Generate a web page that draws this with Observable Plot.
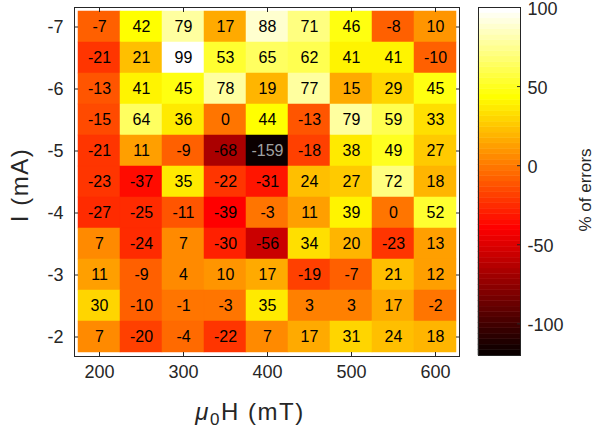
<!DOCTYPE html>
<html>
<head>
<meta charset="utf-8">
<script src="https://cdn.jsdelivr.net/npm/d3@7"></script>
<script src="https://cdn.jsdelivr.net/npm/@observablehq/plot@0.6"></script>
<style>
  html, body { margin: 0; padding: 0; background: white; }
  #wrap { position: relative; width: 595px; height: 432px; overflow: hidden; background: white; }
  #wrap svg { position: absolute; top: 0; }
</style>
</head>
<body>
<div id="wrap"></div>
<script>
// ---- data ----
const fields = [200, 250, 300, 350, 400, 450, 500, 550, 600];          // µ0H (mT)
const currents = [-7, -6.5, -6, -5.5, -5, -4.5, -4, -3.5, -3, -2.5, -2]; // I (mA)
const xTicks = [200, 300, 400, 500, 600];
const yTicks = [-7, -6, -5, -4, -3, -2];
const cbTicks = [-100, -50, 0, 50, 100];
const colorRange = [-120, 100];
// % of errors, one row per current (top to bottom), one column per field
const row_m7   = [-7, 42, 79, 17, 88, 71, 46, -8, 10];
const row_m6_5 = [-21, 21, 99, 53, 65, 62, 41, 41, -10];
const row_m6   = [-13, 41, 45, 78, 19, 77, 15, 29, 45];
const row_m5_5 = [-15, 64, 36, 0, 44, -13, 79, 59, 33];
const row_m5   = [-21, 11, -9, -68, -159, -18, 38, 49, 27];
const row_m4_5 = [-23, -37, 35, -22, -31, 24, 27, 72, 18];
const row_m4   = [-27, -25, -11, -39, -3, 11, 39, 0, 52];
const row_m3_5 = [7, -24, 7, -30, -56, 34, 20, -23, 13];
const row_m3   = [11, -9, 4, 10, 17, -19, -7, 21, 12];
const row_m2_5 = [30, -10, -1, -3, 35, 3, 3, 17, -2];
const row_m2   = [7, -20, -4, -22, 7, 17, 31, 24, 18];
const errorRows = [row_m7, row_m6_5, row_m6, row_m5_5, row_m5, row_m4_5, row_m4, row_m3_5, row_m3, row_m2_5, row_m2];

const data = currents.flatMap((I, i) => fields.map((H, j) => ({H, I, v: errorRows[i][j]})));

// MATLAB "hot" colormap, 64 levels
function hot(t) {
  t = Math.max(0, Math.min(1, t));
  const m = 64, n = 24;
  const k = Math.min(m - 1, Math.floor(t * m)) + 1;
  const r = Math.min(1, k / n);
  const g = k <= n ? 0 : Math.min(1, (k - n) / n);
  const b = k <= 2 * n ? 0 : (k - 2 * n) / (m - 2 * n);
  return `rgb(${Math.round(r * 255)},${Math.round(g * 255)},${Math.round(b * 255)})`;
}
const colorScale = {type: "linear", domain: colorRange, interpolate: hot, clamp: true};

const font = "'Liberation Sans', Arial, Helvetica, sans-serif";
const axisColor = "#262626";
const fmt = d => String(d);

const main = Plot.plot({
  width: 470, height: 432,
  marginLeft: 74, marginRight: 11, marginTop: 7, marginBottom: 76,
  style: {fontFamily: font, fontSize: "18px", color: axisColor, background: "white", overflow: "visible"},
  x: {type: "band", domain: fields, padding: 0, label: null, axis: null},
  y: {type: "band", domain: currents, padding: 0, label: null, axis: null},
  color: colorScale,
  marks: [
    Plot.cell(data, {x: "H", y: "I", fill: "v", inset: 0, stroke: "v", strokeWidth: 0.5}),
    Plot.text(data.filter(d => d.v >= colorRange[0]), {x: "H", y: "I", text: d => fmt(d.v), fill: "black", fontSize: 16}),
    Plot.text(data.filter(d => d.v < colorRange[0]), {x: "H", y: "I", text: d => fmt(d.v), fill: "#a0a0a0", fontSize: 16}),
    Plot.frame({stroke: axisColor}),
    Plot.axisX({anchor: "bottom", ticks: xTicks, tickSize: 0, tickPadding: 9, tickFormat: fmt, fontSize: 18, label: null}),
    Plot.axisX({anchor: "bottom", ticks: xTicks, tickSize: -4, tickFormat: () => "", label: null}),
    Plot.axisX({anchor: "top", ticks: xTicks, tickSize: -4, tickFormat: () => "", label: null}),
    Plot.axisY({anchor: "left", ticks: yTicks, tickSize: 0, tickPadding: 11, tickFormat: fmt, fontSize: 18, label: null}),
    Plot.axisY({anchor: "left", ticks: yTicks, tickSize: -4, tickFormat: () => "", label: null}),
    Plot.axisY({anchor: "right", ticks: yTicks, tickSize: -4, tickFormat: () => "", label: null})
  ]
});
main.style.left = "0px";

const ms = d3.select(main);
ms.append("text")
  .attr("transform", "translate(20,185) rotate(-90)")
  .attr("text-anchor", "middle").attr("dy", "0.35em")
  .attr("font-family", font).attr("font-size", 24).attr("letter-spacing", "1.5px").attr("fill", axisColor)
  .text("I (mA)");
const xl = ms.append("text")
  .attr("x", 250).attr("y", 420)
  .attr("text-anchor", "middle")
  .attr("font-family", font).attr("font-size", 24).attr("letter-spacing", "1.5px").attr("fill", axisColor);
xl.append("tspan").attr("font-style", "italic").text("μ");
xl.append("tspan").attr("font-size", 17).attr("dy", 5).text("0");
xl.append("tspan").attr("dy", -5).text("H (mT)");

// colorbar
const step = (colorRange[1] - colorRange[0]) / 64;
const levels = d3.range(64).map(k => ({y1: colorRange[0] + k * step, y2: colorRange[0] + (k + 1) * step, v: colorRange[0] + (k + 0.5) * step}));
const cb = Plot.plot({
  width: 117, height: 432,
  marginLeft: 0, marginRight: 75, marginTop: 7, marginBottom: 77,
  style: {fontFamily: font, fontSize: "18px", color: axisColor, background: "transparent", overflow: "visible"},
  y: {domain: colorRange, axis: null},
  color: colorScale,
  marks: [
    Plot.rect(levels, {y1: "y1", y2: "y2", fill: "v", stroke: "v", strokeWidth: 0.5}),
    Plot.frame({stroke: axisColor}),
    Plot.axisY({anchor: "right", ticks: cbTicks, tickSize: 0, tickPadding: 7, tickFormat: fmt, fontSize: 18, dy: 1.5, label: null}),
    Plot.axisY({anchor: "right", ticks: cbTicks, tickSize: -4, tickFormat: () => "", label: null})
  ]
});
cb.style.left = "478px";
d3.select(cb).append("text")
  .attr("transform", "translate(107,190) rotate(-90)")
  .attr("text-anchor", "middle").attr("dy", "0.35em")
  .attr("font-family", font).attr("font-size", 17).attr("fill", axisColor)
  .text("% of errors");

document.getElementById("wrap").append(main, cb);
</script>
</body>
</html>
